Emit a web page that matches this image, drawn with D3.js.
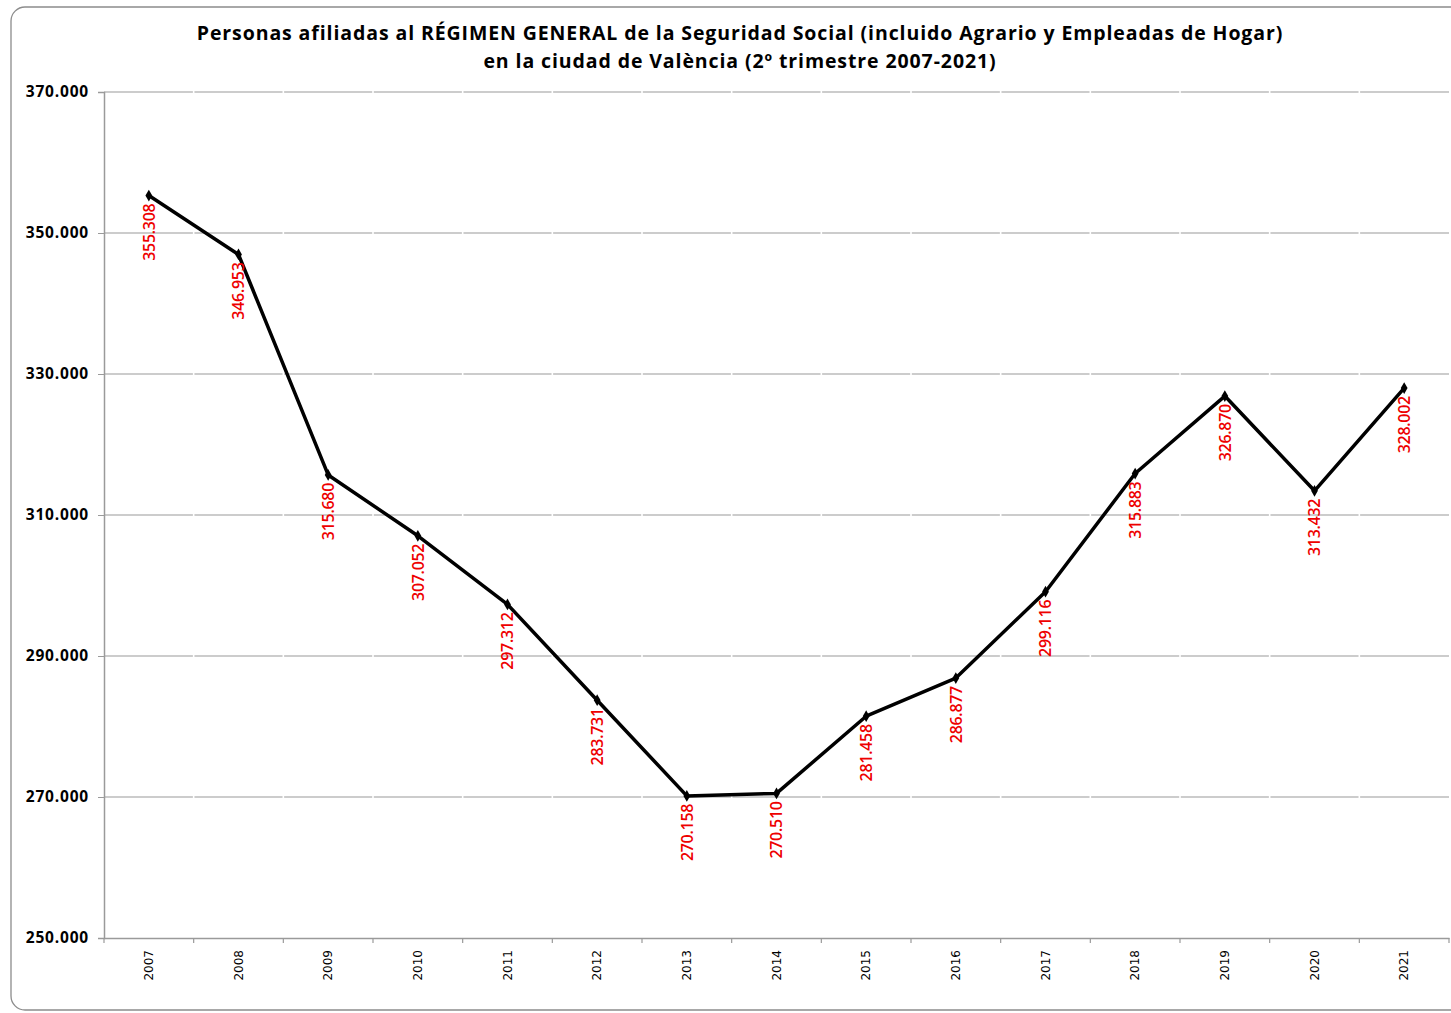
<!DOCTYPE html>
<html><head><meta charset="utf-8">
<script src="https://cdn.jsdelivr.net/npm/d3@7"></script>
<style>body{margin:0;background:#fff}svg{display:block}</style>
</head><body>
<svg id="c" width="1451" height="1013"></svg>
<script>
const years = ["2007","2008","2009","2010","2011","2012","2013","2014","2015","2016","2017","2018","2019","2020","2021"];
const values = [355308,346953,315680,307052,297312,283731,270158,270510,281458,286877,299116,315883,326870,313432,328002];
const yTicks = [250000,270000,290000,310000,330000,350000,370000];
const titleLines = ["Personas afiliadas al RÉGIMEN GENERAL de la Seguridad Social (incluido Agrario y Empleadas de Hogar)","en la ciudad de València (2º trimestre 2007-2021)"];

const svg = d3.select("#c");
const L=104, R=1449, T=92, B=938;
const fmt = v => d3.format(",")(v).replace(/,/g,".");

svg.append("rect").attr("x",11).attr("y",7).attr("width",1480).attr("height",1003)
  .attr("rx",14).attr("fill","#fff").attr("stroke","#8c8c8c").attr("stroke-width",1.3);

const x = d3.scaleBand().domain(years).range([L,R]).padding(0);
const y = d3.scaleLinear().domain([250000,370000]).range([B,T]);

// gridlines
const g = svg.append("g");
g.selectAll("line.grid").data(yTicks.slice(1)).join("line")
  .attr("x1",L).attr("x2",R).attr("y1",d=>y(d)).attr("y2",d=>y(d))
  .attr("stroke","#9a9a9a").attr("stroke-width",1.2);
// small white gaps at category boundaries (as in reference)
g.selectAll("g.gap").data(yTicks.slice(1)).join("g").each(function(v){
  d3.select(this).selectAll("line").data(d3.range(1,years.length)).join("line")
    .attr("x1",i=>L+i*x.step()-0.8).attr("x2",i=>L+i*x.step()+0.8)
    .attr("y1",y(v)).attr("y2",y(v)).attr("stroke","#fff").attr("stroke-width",2);
});

// y axis
const ya = svg.append("g").attr("transform",`translate(${L},0)`)
  .call(d3.axisLeft(y).tickValues(yTicks).tickSize(6).tickPadding(9).tickFormat(fmt));
ya.select(".domain").attr("stroke","#9a9a9a").attr("stroke-width",1.5);
ya.selectAll(".tick line").attr("stroke","#9a9a9a");
ya.selectAll("text").attr("font-family","'Open Sans', sans-serif").attr("font-weight","bold")
  .attr("font-size",15.5).attr("fill","#000").attr("letter-spacing","0.8");

// x axis
const xa = svg.append("g").attr("transform",`translate(0,${B})`)
  .call(d3.axisBottom(x).tickSize(0).tickPadding(0));
xa.select(".domain").attr("stroke","#9a9a9a").attr("stroke-width",1.5);
xa.selectAll(".tick text").attr("font-family","'DejaVu Sans', Verdana, sans-serif")
  .attr("font-size",12).attr("fill","#000")
  .attr("transform","rotate(-90)").attr("text-anchor","end")
  .attr("x",-12).attr("y",0).attr("dy","0.35em");
// boundary ticks
svg.append("g").selectAll("line").data(d3.range(years.length+1)).join("line")
  .attr("x1",i=>L+i*x.step()).attr("x2",i=>L+i*x.step())
  .attr("y1",B).attr("y2",B+5).attr("stroke","#9a9a9a").attr("stroke-width",1.2);

// line
const cx = d => x(d)+x.bandwidth()/2;
const line = d3.line().x((d,i)=>cx(years[i])).y(d=>y(d));
svg.append("path").datum(values).attr("d",line).attr("fill","none")
  .attr("stroke","#000").attr("stroke-width",3.5).attr("stroke-linejoin","round");
svg.append("g").selectAll("path").data(values).join("path")
  .attr("d",d3.symbol().type(d3.symbolDiamond).size(40))
  .attr("transform",(d,i)=>`translate(${cx(years[i])},${y(d)})`).attr("fill","#000");

// data labels
svg.append("g").selectAll("text").data(values).join("text")
  .attr("transform",(d,i)=>`translate(${cx(years[i])},${y(d)+8}) rotate(-90)`)
  .attr("text-anchor","end").attr("dy","0.36em")
  .attr("font-family","'Open Sans', sans-serif").attr("font-weight",600).attr("font-size",16)
  .attr("letter-spacing","-0.3").attr("fill","#ee0000").text(fmt);

// title
svg.append("g").selectAll("text").data(titleLines).join("text")
  .attr("x",740).attr("y",(d,i)=>40+i*28).attr("text-anchor","middle")
  .attr("font-family","'Open Sans', sans-serif").attr("font-weight","bold")
  .attr("font-size",19.5).attr("letter-spacing","0.9").attr("fill","#000").text(d=>d);
</script>
</body></html>
